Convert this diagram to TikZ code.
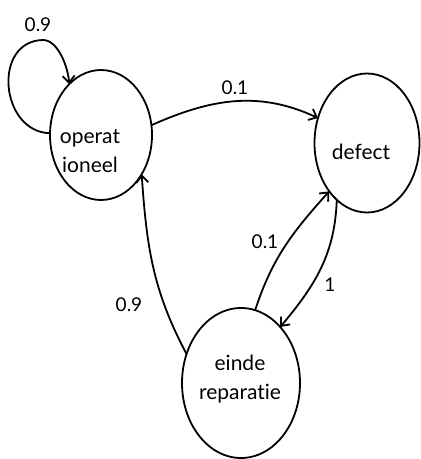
\documentclass[tikz,border=0pt]{standalone}
\usepackage{fontspec}
\setmainfont{Lato}[Ligatures={NoCommon}]
\usetikzlibrary{shapes.geometric,arrows.meta}
\tikzset{
  state/.style={draw, ellipse, line width=1.8pt, inner sep=0pt, outer sep=0pt},
  statetext/.style={align=center, font=\fontsize{21}{29}\selectfont, inner sep=0pt},
  prob/.style={font=\fontsize{19}{20}\selectfont, inner sep=0pt},
  edge/.style={line width=1.8pt, -{Straight Barb[length=7pt,width=12pt,line width=1.8pt]}},
}
\begin{document}
\begin{tikzpicture}[x=1pt,y=1pt]
  \useasboundingbox (0,0) rectangle (421,459);

  % states
  \node[state, minimum width=102pt, minimum height=130pt] (op) at (101,324) {};
  \node[state, minimum width=105pt, minimum height=139pt] (df) at (367,316) {};
  \node[state, minimum width=118pt, minimum height=150pt] (er) at (241,76) {};

  % state names
  \node[statetext] (optext) at (90,308) {operat\\ioneel};
  \node[statetext] (dftext) at (361,307) {defect};
  \node[statetext] (ertext) at (240,80) {einde\\reparatie};

  % transitions
  \draw[edge] (op.178) .. controls (0,327) and (-8,418) .. (43,419)
              .. controls (58,419) and (68,392) .. (op.122);
  \draw[edge] (op.11) to[out=24, in=155] (df.153);
  \draw[edge] (er.79) to[out=72, in=228] (df.232);
  \draw[edge] (df.242) to[out=-92, in=50] (er.55);
  \draw[edge] (er.152) to[out=118, in=-86] (op.-44);

  % transition probabilities
  \node[prob] (p1) at (38,434) {0.9};
  \node[prob] (p2) at (235,371) {0.1};
  \node[prob] (p3) at (265,217) {0.1};
  \node[prob] (p4) at (330,174) {1};
  \node[prob] (p5) at (129,154) {0.9};
\end{tikzpicture}
\end{document}
